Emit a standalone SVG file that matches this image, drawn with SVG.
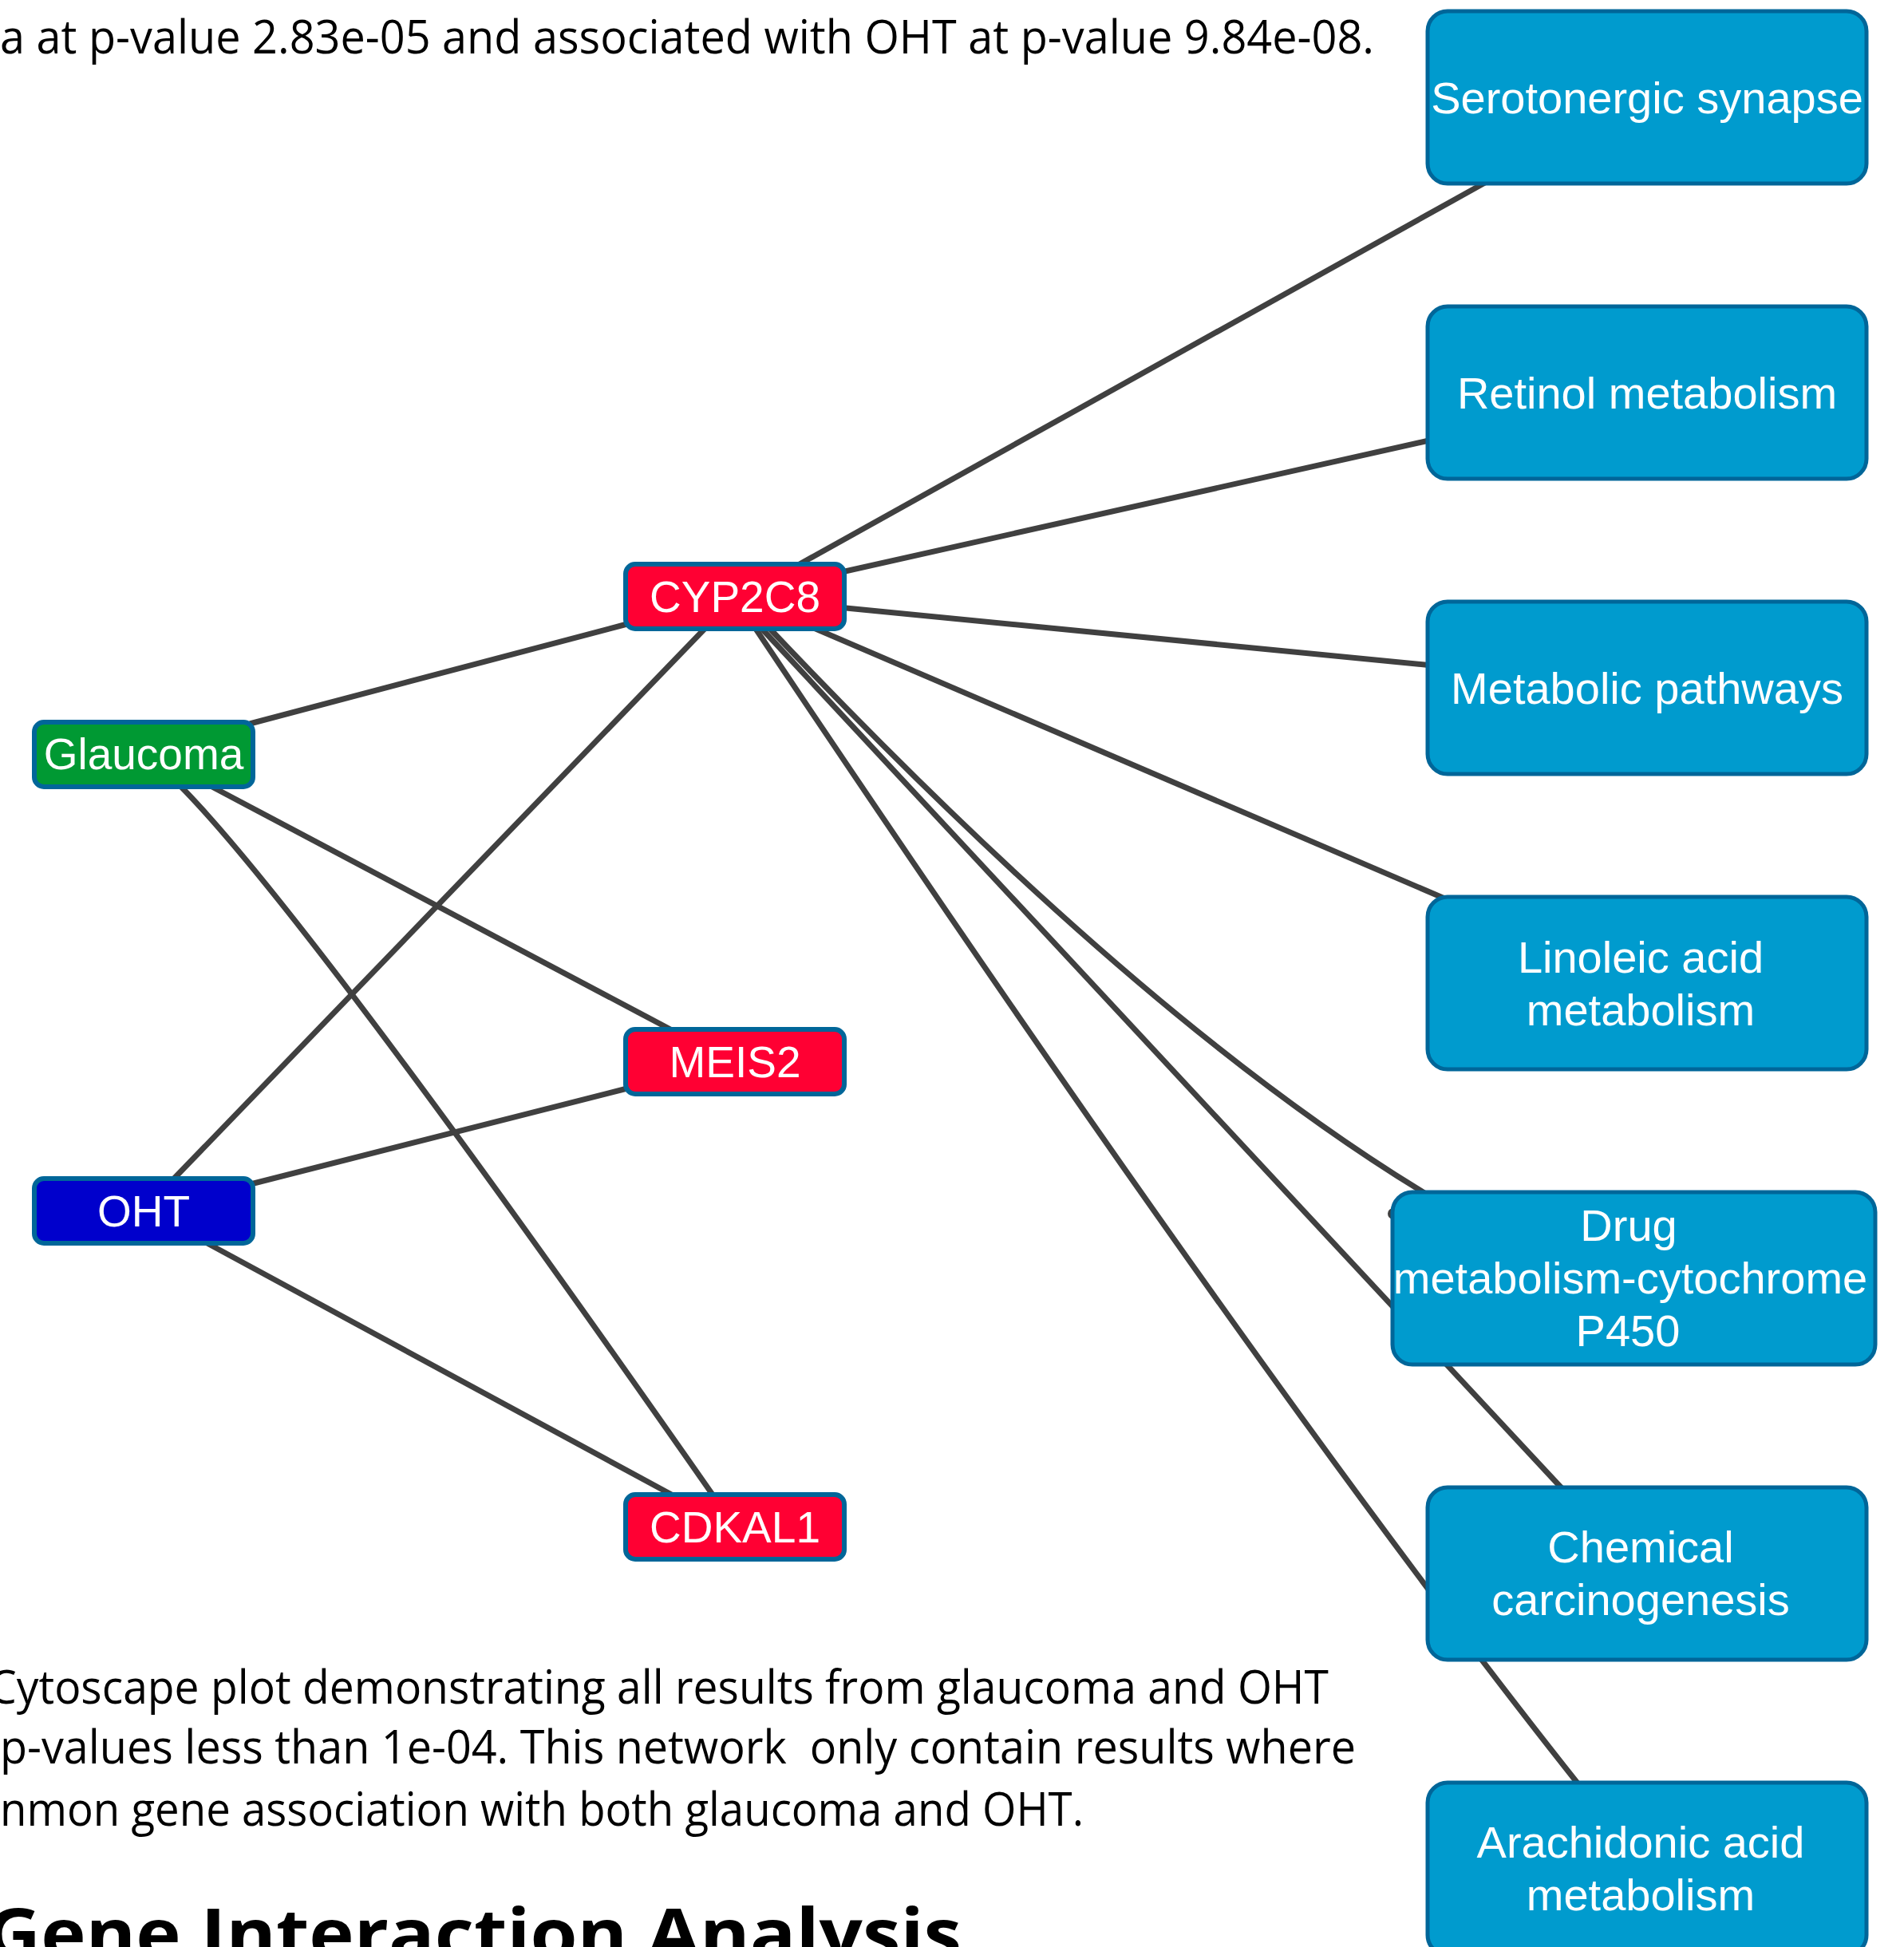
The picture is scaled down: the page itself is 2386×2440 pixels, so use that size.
<svg xmlns="http://www.w3.org/2000/svg" width="2386" height="2440" viewBox="0 0 2386 2440">
<style>
.body{font-family:"Open Sans","Liberation Sans",sans-serif;font-size:58px;fill:#000}
.head{font-family:"Open Sans","Liberation Sans",sans-serif;font-size:88px;font-weight:bold;fill:#000}
.pw{fill:#009BCE;stroke:#006699;stroke-width:5}
.gene{stroke:#006699;stroke-width:6}
.lbl{font-family:"Liberation Sans",Arial,sans-serif;font-size:56px;fill:#fff;text-anchor:middle}
.glbl{font-family:"Liberation Sans",Arial,sans-serif;font-size:55px;fill:#fff;text-anchor:middle}
.edge{fill:none;stroke:#404040;stroke-width:7}
</style>
<rect width="2386" height="2440" fill="#fff"/>
<text class="body" x="0" y="67" textLength="1722" lengthAdjust="spacingAndGlyphs">a at p-value 2.83e-05 and associated with OHT at p-value 9.84e-08.</text>
<text class="body" x="-14" y="2135" textLength="1679" lengthAdjust="spacingAndGlyphs">Cytoscape plot demonstrating all results from glaucoma and OHT</text>
<text class="body" x="0" y="2210" textLength="1699" lengthAdjust="spacingAndGlyphs" xml:space="preserve">p-values less than 1e-04. This network  only contain results where</text>
<text class="body" x="0" y="2288" textLength="1358" lengthAdjust="spacingAndGlyphs">nmon gene association with both glaucoma and OHT.</text>
<text class="head" x="-18" y="2455" textLength="1223" lengthAdjust="spacingAndGlyphs">Gene Interaction Analysis</text>
<g id="connectors">
<path class="edge" d="M993 712 L1868 225"/>
<path class="edge" d="M1050 718 L1795 551"/>
<path class="edge" d="M1050 761 L1795 834"/>
<path class="edge" d="M1015 785 L1815 1128"/>
<path class="edge" d="M962 785 Q1427 1277 1785 1495"/>
<path class="edge" d="M952 785 L1958 1866"/>
<path class="edge" d="M945 785 Q1575 1728 1978 2236"/>
<path class="edge" d="M313 907 L786 782"/>
<path class="edge" d="M262 984 L842 1291"/>
<path class="edge" d="M225 984 Q386 1147 895 1876"/>
<path class="edge" d="M217 1478 L884 787"/>
<path class="edge" d="M314 1484 L786 1364"/>
<path class="edge" d="M256 1556 L847 1876"/>
<circle cx="1746" cy="1521" r="7" fill="#404040"/>
</g>
<g id="node-serotonergic"><rect class="pw" x="1789" y="14" width="550" height="216" rx="25"/><text class="lbl" x="2064" y="142">Serotonergic synapse</text></g>
<g id="node-retinol"><rect class="pw" x="1789" y="384" width="550" height="216" rx="25"/><text class="lbl" x="2064" y="512">Retinol metabolism</text></g>
<g id="node-metabolic"><rect class="pw" x="1789" y="754" width="550" height="216" rx="25"/><text class="lbl" x="2064" y="882">Metabolic pathways</text></g>
<g id="node-linoleic"><rect class="pw" x="1789" y="1124" width="550" height="216" rx="25"/><text class="lbl" x="2056" y="1219">Linoleic acid</text><text class="lbl" x="2056" y="1285">metabolism</text></g>
<g id="node-drug"><rect class="pw" x="1745" y="1494" width="605" height="216" rx="25"/><text class="lbl" x="2041" y="1555">Drug</text><text class="lbl" x="2043" y="1621">metabolism-cytochrome</text><text class="lbl" x="2040" y="1687">P450</text></g>
<g id="node-chemical"><rect class="pw" x="1789" y="1864" width="550" height="216" rx="25"/><text class="lbl" x="2056" y="1958">Chemical</text><text class="lbl" x="2056" y="2024">carcinogenesis</text></g>
<g id="node-arachidonic"><rect class="pw" x="1789" y="2234" width="550" height="216" rx="25"/><text class="lbl" x="2056" y="2328">Arachidonic acid</text><text class="lbl" x="2056" y="2394">metabolism</text></g>
<g id="node-cyp2c8"><rect class="gene" fill="#FF0033" x="784" y="707" width="274" height="81" rx="12"/><text class="glbl" x="921" y="767">CYP2C8</text></g>
<g id="node-glaucoma"><rect class="gene" fill="#009933" x="43" y="905" width="274" height="81" rx="12"/><text class="glbl" x="180" y="964">Glaucoma</text></g>
<g id="node-meis2"><rect class="gene" fill="#FF0033" x="784" y="1290" width="274" height="81" rx="12"/><text class="glbl" x="921" y="1350">MEIS2</text></g>
<g id="node-oht"><rect class="gene" fill="#0000CC" x="43" y="1477" width="274" height="81" rx="12"/><text class="glbl" x="180" y="1537">OHT</text></g>
<g id="node-cdkal1"><rect class="gene" fill="#FF0033" x="784" y="1873" width="274" height="81" rx="12"/><text class="glbl" x="921" y="1933">CDKAL1</text></g>
</svg>
